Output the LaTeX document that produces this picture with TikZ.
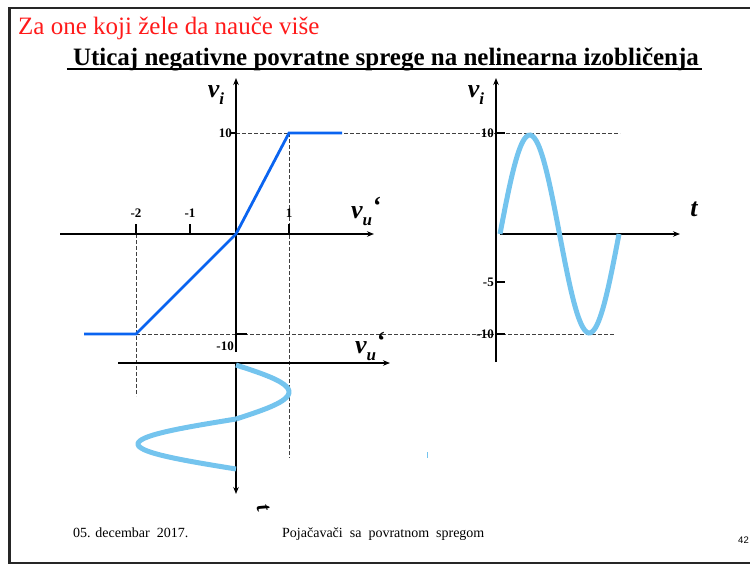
\documentclass[tikz,border=0pt]{standalone}
\usepackage{fontspec}
\setmainfont{Liberation Serif}
\newfontfamily\numfont{Liberation Sans}
\usepackage{tikz}
\usetikzlibrary{arrows.meta, positioning, calc}
\definecolor{titlered}{HTML}{FF1A1A}
\definecolor{kink}{HTML}{0A64F0}
\definecolor{wave}{HTML}{74C4EE}
\newcommand{\subvar}[2]{#1\raisebox{-7pt}{\fontsize{17}{19}\selectfont #2}}

\begin{document}
\begin{tikzpicture}[
    x=1pt, y=-1pt,
    axis/.style={-{Stealth[length=7pt, width=5.5pt]}, line width=1.3pt},
    tick/.style={line width=1.1pt},
    guide/.style={dash pattern=on 3.5pt off 2.5pt, line width=0.7pt, black!75},
    curve/.style={kink, line width=2.8pt},
    swing/.style={wave, line width=5pt},
    num/.style={font=\fontsize{13}{15}\selectfont\bfseries, inner sep=1pt},
    var/.style={font=\fontsize{26}{28}\selectfont\bfseries\itshape, inner sep=0pt}
]
  \useasboundingbox (0,0) rectangle (750,566);

  % frame of the slide
  \draw[line width=2.5pt, black!85] (750,8) -- (9.5,8) -- (9.5,563) -- (750,563);

  % headings
  \node[anchor=base west, text=titlered, font=\fontsize{25}{28}\selectfont, inner sep=0pt] (kicker) at (18,34) {Za one koji žele da nauče više};
  \node[anchor=base, font=\fontsize{25}{28}\selectfont\bfseries, inner sep=0pt] (title) at (386,65) {Uticaj negativne povratne sprege na nelinearna izobličenja};
  \draw[line width=1.4pt] ($(title.base west)+(-6,4)$) -- ($(title.base east)+(3,4)$);

  % transfer characteristic
  \coordinate (o) at (236,234);
  \coordinate (xl) at (60,234);
  \coordinate (xr) at (374,234);
  \coordinate (yb) at (236,352);
  \coordinate (yt) at (236,78);
  \coordinate (lo) at (84,334);
  \coordinate (k2) at (136,334);
  \coordinate (k1) at (289,133);
  \coordinate (hi) at (342,133);

  \draw[guide] (236,133) -- (620,133);
  \draw[guide] (k2) -- (615,334);
  \draw[guide] (136,234) -- (136,396);
  \draw[guide] (289,133) -- (289,458);

  \draw[axis] (xl) -- (xr);
  \draw[axis] (yb) -- (yt);
  \foreach \xp/\lab in {136/-2, 190/-1, 289/1} {
    \draw[tick] (\xp,224) -- (\xp,234);
    \node[num] (tx\xp) at (\xp,213) {\lab};
  }
  \draw[tick] (230,133) -- (236,133);
  \draw[tick] (236,334) -- (247,334);
  \node[num, anchor=east] (ty10) at (233,133) {10};
  \node[num, anchor=east] (tym10) at (235,346) {-10};

  \draw[curve] (lo) -- (k2) -- (o) -- (k1) -- (hi);

  \node[var, anchor=base] (vi) at (216,97) {\subvar{v}{i}};
  \node[var, anchor=base] (vu) at (366,218) {\subvar{v}{u}\raisebox{4pt}{‘}};

  % input swing
  \coordinate (bl) at (118,363);
  \coordinate (br) at (390,363);
  \coordinate (bt) at (236,363);
  \coordinate (bb) at (236,494);
  \draw[axis] (bl) -- (br);
  \draw[axis] (bt) -- (bb);
  \draw[swing] plot[domain=0:180, samples=40, smooth] ({236+53*sin(\x)}, {365+0.3*\x});
  \draw[swing] plot[domain=180:360, samples=40, smooth] ({236+98*sin(\x)}, {369+0.2778*\x});
  \node[var, anchor=base] (vu2) at (370,353) {\subvar{v}{u}\raisebox{4pt}{‘}};
  \node[var, rotate=-75, font=\fontsize{22}{24}\selectfont\bfseries\itshape] (tb) at (263,508) {t};
  \fill[wave] (426.5,452) rectangle (428,458);

  % output swing
  \coordinate (ro) at (500,234);
  \coordinate (rr) at (680,234);
  \coordinate (rb) at (496,362);
  \coordinate (rt) at (496,78);
  \draw[axis] (ro) -- (rr);
  \draw[axis] (rb) -- (rt);
  \foreach \yp/\lab in {133/10, 282/-5, 334/-10} {
    \draw[tick] (496,\yp) -- (505,\yp);
    \node[num, anchor=east] (ry\yp) at (495,\yp) {\lab};
  }
  \draw[swing] plot[domain=0:360, samples=60, smooth] ({500+0.3306*\x}, {234-99*sin(\x)});
  \node[var, anchor=base] (vir) at (476,97) {\subvar{v}{i}};
  \node[var, anchor=base] (tr) at (694,216) {t};

  % footer
  \node[anchor=base west, font=\fontsize{14}{16}\selectfont, inner sep=0pt] (date) at (73,537) {05. decembar\ \ 2017.};
  \node[anchor=base west, font=\fontsize{14}{16}\selectfont, inner sep=0pt] (course) at (282,537) {Pojačavači\ \ sa\ \ povratnom\ \ spregom};
  \node[anchor=base east, font=\numfont\fontsize{9.5}{11}\selectfont, inner sep=0pt] (page) at (749,543) {42};
\end{tikzpicture}
\end{document}
